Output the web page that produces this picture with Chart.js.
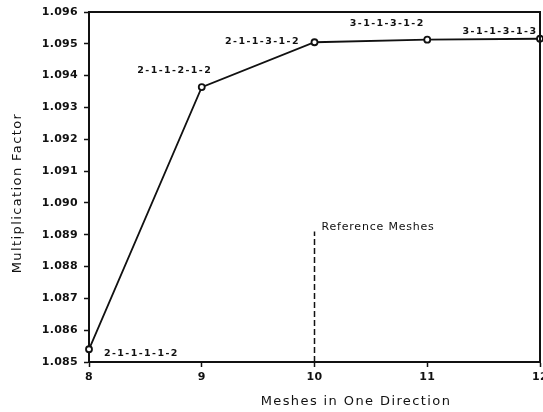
<!DOCTYPE html>
<html>
<head>
<meta charset="utf-8">
<script src="https://cdn.jsdelivr.net/npm/chart.js@4"></script>
<style>
  html, body { margin: 0; padding: 0; background: #fff; }
  #wrap { width: 543px; height: 412px; }
</style>
</head>
<body>
<div id="wrap"><canvas id="chart"></canvas></div>
<script>
// Mesh count vs multiplication factor
const meshes = [8, 9, 10, 11, 12];
const kValues = [1.0854, 1.09364, 1.09505, 1.09513, 1.09516];
const meshLabels = ['2-1-1-1-1-2', '2-1-1-2-1-2', '2-1-1-3-1-2', '3-1-1-3-1-2', '3-1-1-3-1-3'];
const refMesh = 10;
const refTop = 1.0891;
const refLabel = 'Reference Meshes';
const xTitle = 'Meshes in One Direction';
const yTitle = 'Multiplication Factor';

const ink = '#111';
const fontFamily = '"DejaVu Sans", "Liberation Sans", sans-serif';

// label placement relative to each point (px)
const labelOffsets = [[15, 4, 'left'], [-27, -17, 'center'], [-52, -1, 'center'], [-40, -16, 'center'], [-40, -7, 'center']];

const annotations = {
  id: 'annotations',
  beforeDraw(chart) {
    chart.ctx.letterSpacing = '0.3px';
  },
  afterDatasetsDraw(chart) {
    const { ctx, chartArea: a, scales: { x, y } } = chart;
    ctx.save();
    // frame top/right
    ctx.strokeStyle = ink;
    ctx.lineWidth = 2;
    ctx.beginPath();
    ctx.moveTo(a.left, a.top);
    ctx.lineTo(a.right, a.top);
    ctx.lineTo(a.right, a.bottom);
    ctx.stroke();

    // reference mesh marker
    const rx = x.getPixelForValue(refMesh);
    ctx.lineWidth = 1.5;
    ctx.setLineDash([6, 3]);
    ctx.beginPath();
    ctx.moveTo(rx, y.getPixelForValue(y.min));
    ctx.lineTo(rx, y.getPixelForValue(refTop));
    ctx.stroke();
    ctx.setLineDash([]);

    ctx.fillStyle = ink;
    ctx.letterSpacing = '0.8px';
    ctx.font = '11px ' + fontFamily;
    ctx.textAlign = 'left';
    ctx.textBaseline = 'middle';
    ctx.fillText(refLabel, rx + 7, y.getPixelForValue(refTop) - 4);

    // mesh configuration labels
    ctx.font = 'bold 9.5px ' + fontFamily;
    ctx.letterSpacing = '1.4px';
    meshLabels.forEach((txt, i) => {
      const [dx, dy, al] = labelOffsets[i];
      ctx.textAlign = al;
      ctx.fillText(txt, x.getPixelForValue(meshes[i]) + dx, y.getPixelForValue(kValues[i]) + dy);
    });

    // axis titles
    ctx.font = '13px ' + fontFamily;
    ctx.letterSpacing = '1.4px';
    ctx.textAlign = 'center';
    ctx.fillText(xTitle, 356, 402);
    ctx.translate(18, 193);
    ctx.rotate(-Math.PI / 2);
    ctx.fillText(yTitle, 0, 0);
    ctx.restore();
  }
};

new Chart(document.getElementById('chart'), {
  type: 'line',
  data: {
    datasets: [{
      data: meshes.map((m, i) => ({ x: m, y: kValues[i] })),
      borderColor: ink,
      borderWidth: 1.8,
      pointRadius: 3,
      pointBackgroundColor: '#fff',
      pointBorderColor: ink,
      pointBorderWidth: 1.8,
      tension: 0,
      clip: false
    }]
  },
  options: {
    responsive: true,
    maintainAspectRatio: false,
    animation: false,
    layout: { autoPadding: false, padding: { top: 12, right: 3, left: 0, bottom: 0 } },
    plugins: { legend: { display: false }, tooltip: { enabled: false } },
    scales: {
      x: {
        type: 'linear',
        min: 8, max: 12,
        afterFit: s => { s.height = 50; s.paddingLeft = 0; s.paddingRight = 0; },
        border: { display: true, color: ink, width: 2 },
        grid: { drawOnChartArea: false, color: ink, tickLength: 5, tickWidth: 1.5 },
        ticks: {
          stepSize: 1, padding: 4, color: ink,
          font: { family: fontFamily, size: 11, weight: 'bold' }
        }
      },
      y: {
        min: 1.085, max: 1.096,
        afterFit: s => { s.width = 89; s.paddingTop = 0; s.paddingBottom = 0; },
        border: { display: true, color: ink, width: 2 },
        grid: { drawOnChartArea: false, color: ink, tickLength: 5, tickWidth: 1.5 },
        ticks: {
          stepSize: 0.001, padding: 6, color: ink,
          font: { family: fontFamily, size: 11, weight: 'bold' },
          callback: v => v.toFixed(3)
        }
      }
    }
  },
  plugins: [annotations]
});
</script>
</body>
</html>
